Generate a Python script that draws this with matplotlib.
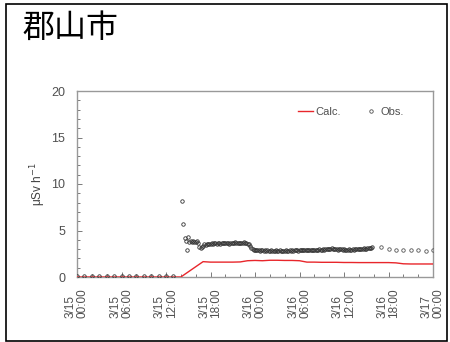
import matplotlib
matplotlib.use("Agg")
import matplotlib.pyplot as plt
import numpy as np
from matplotlib.lines import Line2D
from matplotlib.patches import Rectangle
from matplotlib.ticker import MultipleLocator

title = "郡山市"
ylabel = "μSv h$^{-1}$"
tick_hours = [0, 6, 12, 18, 24, 30, 36, 42, 48]
tick_labels = ["3/15\n00:00", "3/15\n06:00", "3/15\n12:00", "3/15\n18:00",
               "3/16\n00:00", "3/16\n06:00", "3/16\n12:00", "3/16\n18:00",
               "3/17\n00:00"]

# Calc. (hourly, hours since 3/15 00:00)
calc_hours = list(range(0, 49))
calc_vals = [0, 0, 0, 0, 0, 0, 0, 0, 0, 0, 0, 0, 0, 0, 0,
             0.55, 1.1, 1.65, 1.6, 1.6, 1.6, 1.6, 1.62,
             1.75, 1.78, 1.75, 1.8, 1.8, 1.78, 1.78, 1.75,
             1.6, 1.6, 1.58, 1.58, 1.58, 1.56, 1.56, 1.55, 1.55, 1.55, 1.55, 1.55, 1.52,
             1.42, 1.4, 1.4, 1.4, 1.4]

# Obs. early hourly (0..13 h)
obs_early_hours = list(range(0, 14))
obs_early_vals = [0.1, 0.1, 0.1, 0.1, 0.1, 0.1, 0.1, 0.1, 0.1, 0.1, 0.1, 0.1, 0.1, 0.1]

# Obs. 10-minute data from 14:10 on 3/15 to 15:50 on 3/16
obs_dense_vals = [
    8.2, 5.7, 4.2, 3.9, 2.85,
    4.35, 3.8, 3.9, 3.8, 3.85, 3.8,
    3.8, 3.85, 3.7, 3.2, 3.1, 3.25,
    3.35, 3.5, 3.45, 3.6, 3.55, 3.6,
    3.6, 3.65, 3.6, 3.7, 3.65, 3.6,
    3.65, 3.7, 3.6, 3.65, 3.7, 3.65,
    3.7, 3.65, 3.7, 3.6, 3.65, 3.7,
    3.65, 3.7, 3.75, 3.7, 3.65, 3.7,
    3.7, 3.65, 3.7, 3.75, 3.7, 3.65,
    3.6, 3.5, 3.3, 3.1, 3.0, 2.95,
    2.9, 2.85, 2.9, 2.85, 2.8, 2.85,
    2.85, 2.8, 2.85, 2.8, 2.85, 2.8,
    2.8, 2.85, 2.8, 2.75, 2.8, 2.85,
    2.8, 2.8, 2.85, 2.8, 2.75, 2.8,
    2.8, 2.85, 2.8, 2.8, 2.85, 2.8,
    2.85, 2.8, 2.85, 2.9, 2.85, 2.8,
    2.85, 2.9, 2.85, 2.9, 2.85, 2.9,
    2.9, 2.85, 2.9, 2.95, 2.9, 2.9,
    2.95, 2.9, 2.95, 2.9, 3.0, 2.95,
    2.95, 3.0, 2.95, 3.0, 3.05, 3.0,
    3.0, 3.05, 3.1, 3.0, 3.05, 3.0,
    3.0, 2.95, 3.0, 3.05, 3.0, 2.95,
    3.0, 2.95, 2.9, 2.95, 3.0, 2.95,
    2.95, 3.0, 2.95, 3.0, 3.05, 3.0,
    3.0, 3.05, 3.0, 3.05, 3.1, 3.05,
    3.05, 3.1, 3.1, 3.15, 3.1, 3.2,
]
obs_dense_start = 14 + 1 / 6
obs_dense_step = 1 / 6

# Obs. hourly tail
obs_tail_hours = [41, 42, 43, 44, 45, 46, 47, 48]
obs_tail_vals = [3.2, 3.0, 2.95, 2.95, 2.9, 2.95, 2.75, 2.85]

plt.rcParams['font.family'] = ['Liberation Sans', 'DejaVu Sans']

fig = plt.figure(figsize=(4.5, 3.42), dpi=100)
ax = fig.add_axes([77 / 450, 1 - 277 / 342, (433 - 77) / 450, (277 - 91) / 342])

red = '#e8262b'
grey = '#7a7a7a'
ax.plot(calc_hours, calc_vals, color=red, lw=1.0, zorder=3)

dense_hours = obs_dense_start + obs_dense_step * np.arange(len(obs_dense_vals))
mk = dict(linestyle='none', marker='o', markersize=2.5, markerfacecolor='none',
          markeredgecolor='#333333', markeredgewidth=0.6, zorder=4)
ax.plot(obs_early_hours, obs_early_vals, **mk)
ax.plot(dense_hours, obs_dense_vals, **mk)
ax.plot(obs_tail_hours, obs_tail_vals, **{**mk, 'markeredgecolor': '#555555'})

ax.set_xlim(0, 48)
ax.set_ylim(0, 20)
ax.set_xticks(tick_hours)
ax.set_xticklabels(tick_labels, rotation=90, fontsize=8.5, color='#505050',
                   multialignment='left', linespacing=1.0)
ax.xaxis.set_minor_locator(MultipleLocator(2))
ax.set_yticks([0, 5, 10, 15, 20])
ax.yaxis.set_minor_locator(MultipleLocator(1))
ax.tick_params(axis='y', which='major', labelsize=9, labelcolor='#505050', pad=8.5)
ax.tick_params(axis='x', which='major', pad=8)
ax.tick_params(which='both', direction='in', color=grey, width=0.7)
ax.tick_params(which='major', length=3.5)
ax.tick_params(which='minor', length=2.5)
for s in ax.spines.values():
    s.set_color('#999999')
    s.set_linewidth(1.0)

ax.set_ylabel(ylabel, fontsize=8.5, color='#404040', labelpad=2)

handles = [Line2D([], [], color=red, lw=1.0),
           Line2D([], [], linestyle='none', marker='o', markersize=2.5,
                  markerfacecolor='none', markeredgecolor='#505050', markeredgewidth=0.6)]
ax.legend(handles, ['Calc.', 'Obs.'], ncol=2, frameon=False, fontsize=8,
          handlelength=1.4, handletextpad=0.15, columnspacing=2.0,
          loc='upper right', bbox_to_anchor=(0.945, 0.97), labelcolor='#505050')

fig.text(22 / 450, 1 - 28 / 342, title, fontsize=23, ha='left', va='center',
         family=['Noto Sans CJK JP', 'DejaVu Sans'], color='black')

fig.patches.append(Rectangle((6 / 450, 1 - 341 / 342), (447 - 6) / 450, (341 - 4) / 342,
                             transform=fig.transFigure, fill=False,
                             edgecolor='black', linewidth=1.2))

fig.savefig('out.png', dpi=100)
